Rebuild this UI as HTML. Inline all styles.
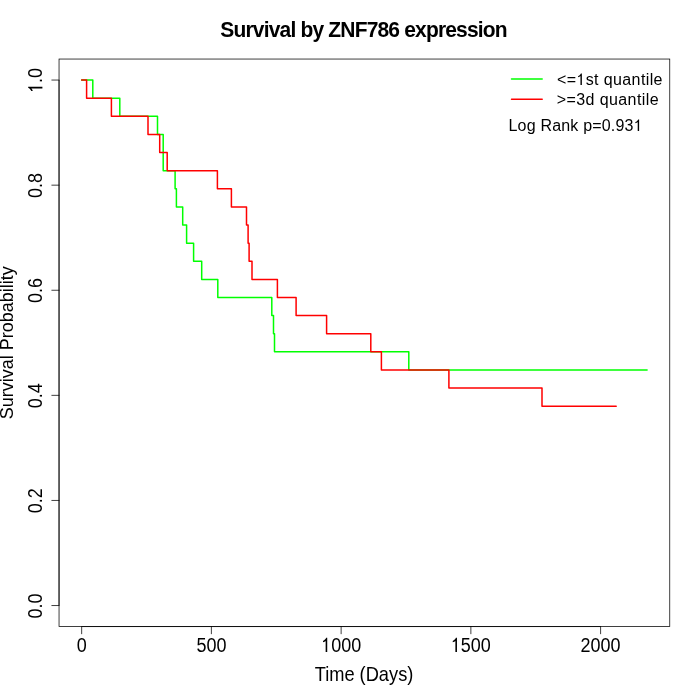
<!DOCTYPE html>
<html><head><meta charset="utf-8"><style>html,body{margin:0;padding:0;background:#fff;width:700px;height:700px;overflow:hidden}svg{display:block;will-change:transform}</style></head>
<body><svg width="700" height="700" viewBox="0 0 700 700" font-family='"Liberation Sans", sans-serif'><rect width="700" height="700" fill="#fff"/><g transform="translate(364.00 36.70) scale(1 1.035)"><text id="t0" text-anchor="middle" font-size="21" font-weight="bold" textLength="287.4" lengthAdjust="spacing">Survival by ZNF786 expression</text></g><rect x="59.04" y="59.04" width="610.72" height="567.52" fill="none" stroke="#000" stroke-width="0.75"/><path d="M81.66 626.56H600.60" stroke="#000" stroke-width="0.75" fill="none"/><path d="M81.66 626.56V633.76" stroke="#000" stroke-width="0.75" stroke-linecap="round"/><g transform="translate(81.66 652.00) scale(1 1.1)"><text id="t1" text-anchor="middle" font-size="18">0</text></g><path d="M211.39 626.56V633.76" stroke="#000" stroke-width="0.75" stroke-linecap="round"/><g transform="translate(211.39 652.00) scale(1 1.1)"><text id="t2" text-anchor="middle" font-size="18">500</text></g><path d="M341.13 626.56V633.76" stroke="#000" stroke-width="0.75" stroke-linecap="round"/><g transform="translate(341.13 652.00) scale(1 1.1)"><text id="t3" text-anchor="middle" font-size="18">&#x2007;000</text><path transform="translate(-20.01 0.00) scale(0.00879 -0.00879)" d="M695 0H515V1147Q460 1095 375 1055T215 1000V1150Q340 1200 435 1290T575 1472H695Z"/></g><path d="M470.87 626.56V633.76" stroke="#000" stroke-width="0.75" stroke-linecap="round"/><g transform="translate(470.87 652.00) scale(1 1.1)"><text id="t4" text-anchor="middle" font-size="18">&#x2007;500</text><path transform="translate(-20.01 0.00) scale(0.00879 -0.00879)" d="M695 0H515V1147Q460 1095 375 1055T215 1000V1150Q340 1200 435 1290T575 1472H695Z"/></g><path d="M600.60 626.56V633.76" stroke="#000" stroke-width="0.75" stroke-linecap="round"/><g transform="translate(600.60 652.00) scale(1 1.1)"><text id="t5" text-anchor="middle" font-size="18">2000</text></g><path d="M59.04 605.54V80.06" stroke="#000" stroke-width="0.75" fill="none"/><path d="M59.04 605.54H51.84" stroke="#000" stroke-width="0.75" stroke-linecap="round"/><g transform="translate(42.40 605.89) rotate(-90) scale(1 1.1)"><text id="t6" text-anchor="middle" font-size="18">0.0</text></g><path d="M59.04 500.44H51.84" stroke="#000" stroke-width="0.75" stroke-linecap="round"/><g transform="translate(42.40 500.79) rotate(-90) scale(1 1.1)"><text id="t7" text-anchor="middle" font-size="18">0.2</text></g><path d="M59.04 395.35H51.84" stroke="#000" stroke-width="0.75" stroke-linecap="round"/><g transform="translate(42.40 395.70) rotate(-90) scale(1 1.1)"><text id="t8" text-anchor="middle" font-size="18">0.4</text></g><path d="M59.04 290.25H51.84" stroke="#000" stroke-width="0.75" stroke-linecap="round"/><g transform="translate(42.40 290.60) rotate(-90) scale(1 1.1)"><text id="t9" text-anchor="middle" font-size="18">0.6</text></g><path d="M59.04 185.16H51.84" stroke="#000" stroke-width="0.75" stroke-linecap="round"/><g transform="translate(42.40 185.51) rotate(-90) scale(1 1.1)"><text id="t10" text-anchor="middle" font-size="18">0.8</text></g><path d="M59.04 80.06H51.84" stroke="#000" stroke-width="0.75" stroke-linecap="round"/><g transform="translate(42.40 80.41) rotate(-90) scale(1 1.1)"><text id="t11" text-anchor="middle" font-size="18">&#x2007;.0</text><path transform="translate(-12.51 0.00) scale(0.00879 -0.00879)" d="M695 0H515V1147Q460 1095 375 1055T215 1000V1150Q340 1200 435 1290T575 1472H695Z"/></g><g transform="translate(364.00 681.00) scale(1 1.09)"><text id="t12" text-anchor="middle" font-size="18" textLength="98.7" lengthAdjust="spacingAndGlyphs">Time (Days)</text></g><g transform="translate(13.00 342.80) rotate(-90)"><text id="t13" text-anchor="middle" font-size="18">Survival Probability</text></g><g fill="none" stroke-width="1.5" stroke-linejoin="round" stroke-linecap="round"><path d="M81.66 80.06H92.80V98.18H119.80V116.30H157.50V134.42H163.20V170.66H175.10V188.78H176.40V206.90H182.70V225.02H186.60V243.14H193.60V261.26H201.70V279.38H217.80V297.50H271.80V315.62H273.50V333.74H274.50V351.86H408.80V369.98H647.10" stroke="#00ff00"/><path d="M81.66 80.06H86.60V98.18H111.40V116.30H148.00V134.42H159.70V152.54H167.20V170.66H217.40V188.78H231.40V206.90H246.50V225.02H248.10V243.14H249.10V261.26H252.00V279.38H277.40V297.50H296.10V315.62H326.60V333.74H370.80V351.86H381.40V369.98H448.90V388.10H542.00V406.22H616.20" stroke="#ff0000"/><path d="M511.5 79.0H542.2" stroke="#00ff00"/><path d="M511.5 99.3H542.2" stroke="#ff0000"/></g><g transform="translate(557.00 85.00)"><text id="t14" text-anchor="start" font-size="16" textLength="105.5" lengthAdjust="spacing"><tspan dy="&#x2007;.7">&lt;=</tspan><tspan dy="-&#x2007;.7">&#x2007;st quantile</tspan></text><path transform="translate(19.44 0.00) scale(0.00781 -0.00781)" d="M695 0H515V1147Q460 1095 375 1055T215 1000V1150Q340 1200 435 1290T575 1472H695Z"/></g><g transform="translate(556.75 105.00)"><text id="t15" text-anchor="start" font-size="16" textLength="101.8" lengthAdjust="spacing"><tspan dy="&#x2007;.7">&gt;=</tspan><tspan dy="-&#x2007;.7">3d quantile</tspan></text></g><g transform="translate(508.50 131.00)"><text id="t16" text-anchor="start" font-size="16" textLength="134.1" lengthAdjust="spacing">Log Rank p=0.93&#x2007;</text><path transform="translate(125.19 0.00) scale(0.00781 -0.00781)" d="M695 0H515V1147Q460 1095 375 1055T215 1000V1150Q340 1200 435 1290T575 1472H695Z"/></g></svg></body></html>
